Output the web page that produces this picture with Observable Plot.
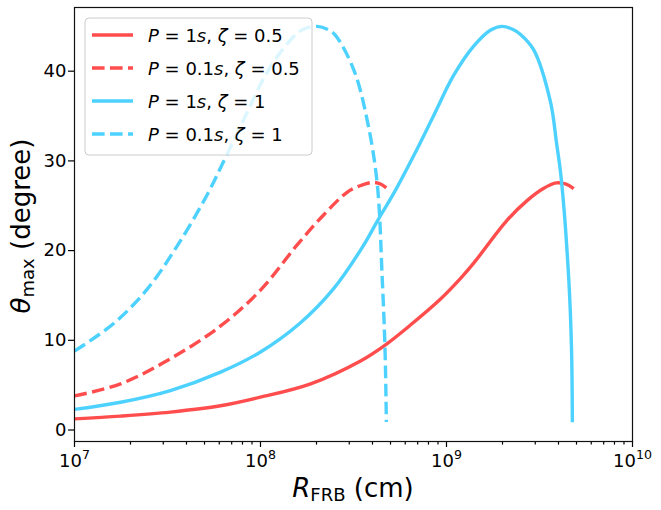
<!DOCTYPE html>
<html><head><meta charset="utf-8">
<script src="https://cdn.jsdelivr.net/npm/d3@7"></script>
<script src="https://cdn.jsdelivr.net/npm/@observablehq/plot@0.6"></script>
<style>body{margin:0;background:#fff} svg{display:block}</style>
</head><body><div id="chart"></div>
<script>
// ---- data ----
const seriesKeys = ["P1_z05", "P01_z05", "P1_z1", "P01_z1"];

// P = 1 s, zeta = 0.5 (solid red)
const R_P1_z05 = [1.0e7, 1.77e7, 3.28e7, 6.10e7, 1.0e8, 1.86e8, 3.45e8, 4.70e8, 6.40e8, 9.29e8, 1.19e9, 1.40e9, 2.12e9, 2.72e9, 3.30e9, 3.90e9, 4.40e9, 4.83e9];
const T_P1_z05 = [1.24, 1.55, 2.0, 2.7, 3.66, 5.15, 7.7, 9.5, 11.7, 14.6, 16.9, 18.6, 23.4, 25.6, 26.9, 27.55, 27.4, 26.9];

// P = 0.1 s, zeta = 0.5 (dashed red)
const R_P01_z05 = [1.0e7, 1.77e7, 3.28e7, 6.10e7, 1.0e8, 1.57e8, 2.19e8, 2.92e8, 3.40e8, 3.99e8, 4.45e8, 4.80e8];
const T_P01_z05 = [3.8, 5.15, 7.95, 11.6, 15.6, 20.6, 24.0, 26.5, 27.2, 27.6, 27.4, 26.9];

// P = 1 s, zeta = 1 (solid blue)
const R_P1_z1 = [1.0e7, 1.77e7, 3.28e7, 6.10e7, 1.0e8, 1.63e8, 2.46e8, 3.56e8, 4.33e8, 5.21e8, 6.67e8, 8.55e8, 1.09e9, 1.40e9, 1.73e9, 2.0e9, 2.28e9, 2.50e9, 2.94e9, 3.62e9, 3.91e9, 4.14e9, 4.54e9, 4.70e9, 4.75e9];
const T_P1_z1 = [2.3, 3.1, 4.4, 6.45, 8.7, 11.9, 15.7, 20.5, 23.6, 26.4, 30.6, 35.1, 39.5, 42.8, 44.6, 45.0, 44.65, 44.1, 42.4, 36.6, 31.9, 28.0, 16.9, 9.1, 0.87];

// P = 0.1 s, zeta = 1 (dashed blue)
const R_P01_z1 = [1.0e7, 1.63e7, 2.46e7, 3.56e7, 5.16e7, 6.49e7, 8.30e7, 1.06e8, 1.36e8, 1.67e8, 2.02e8, 2.30e8, 2.53e8, 3.18e8, 3.75e8, 4.24e8, 4.51e8, 4.67e8, 4.75e8];
const T_P01_z1 = [8.8, 11.9, 15.7, 20.5, 26.2, 30.4, 35.0, 39.5, 42.8, 44.6, 45.0, 44.65, 44.0, 40.1, 34.5, 27.5, 17.0, 9.1, 0.9];

const xTicks = [1e7, 1e8, 1e9, 1e10];
const xMinorTicks = [2e7,3e7,4e7,5e7,6e7,7e7,8e7,9e7, 2e8,3e8,4e8,5e8,6e8,7e8,8e8,9e8, 2e9,3e9,4e9,5e9,6e9,7e9,8e9,9e9];
const yTicks = [0, 10, 20, 30, 40];

// legend pieces: P value and zeta value of each series
const legendP = ["1", "0.1", "1", "0.1"];
const legendZeta = ["0.5", "0.5", "1", "1"];

// ---- build table ----
const seriesData = {
  P1_z05: [R_P1_z05, T_P1_z05],
  P01_z05: [R_P01_z05, T_P01_z05],
  P1_z1: [R_P1_z1, T_P1_z1],
  P01_z1: [R_P01_z1, T_P01_z1]
};
const rows = [];
for (const k of seriesKeys) {
  const [rs, ts] = seriesData[k];
  rs.forEach((r, i) => rows.push({series: k, R: r, theta: ts[i]}));
}

const RED = "#ff4d4d", BLUE = "#4dd2ff";
const styles = {
  P1_z05: {stroke: RED, dash: null},
  P01_z05: {stroke: RED, dash: "12.6,5.4"},
  P1_z1: {stroke: BLUE, dash: null},
  P01_z1: {stroke: BLUE, dash: "12.6,5.4"}
};
const LW = 3.4;

const lineMarks = seriesKeys.map(k => Plot.line(rows.filter(d => d.series === k), {
  x: "R", y: "theta", stroke: styles[k].stroke, strokeWidth: LW,
  strokeDasharray: styles[k].dash || undefined, curve: "catmull-rom",
  strokeLinecap: "butt", strokeLinejoin: "round"
}));

const chart = Plot.plot({
  width: 661, height: 510,
  marginLeft: 74, marginRight: 29, marginTop: 7, marginBottom: 69,
  style: {fontFamily: "DejaVu Sans", background: "white", color: "black", overflow: "visible"},
  x: {type: "log", domain: [1e7, 1e10]},
  y: {domain: [-1.28, 47.1]},
  marks: [
    ...lineMarks,
    Plot.axisX({ticks: xMinorTicks, tickSize: 3.6, tickFormat: () => "", strokeWidth: 1.2, label: null}),
    Plot.axisX({ticks: xTicks, tickSize: 6, tickPadding: 6.5, fontSize: 18, tickFormat: d => String(Math.round(Math.log10(d))), strokeWidth: 1.2, label: null}),
    Plot.axisY({ticks: yTicks, tickSize: 6, tickPadding: 2, fontSize: 18, strokeWidth: 1.2, label: null}),
    Plot.frame({stroke: "#111", strokeWidth: 1.2})
  ]
});

const svg = d3.select(chart);
// superscript exponents on the x tick labels
svg.selectAll('g[aria-label="x-axis tick label"] text').each(function() {
  const t = this.textContent;
  if (!t) return;
  const sel = d3.select(this);
  sel.text(null);
  sel.append("tspan").text("10");
  sel.append("tspan").attr("font-size", 12.6).attr("dy", -8).text(t);
});

const ann = svg.append("g").attr("font-family", "DejaVu Sans").attr("fill", "black");

// x axis label
const xl = ann.append("text").attr("x", 353).attr("y", 497).attr("text-anchor", "middle").attr("font-size", 26);
xl.append("tspan").attr("font-style", "italic").text("R");
xl.append("tspan").attr("font-size", 18).attr("dy", 4).text("FRB");
xl.append("tspan").attr("dy", -4).text("\u00a0(cm)");

// y axis label
const yl = ann.append("text").attr("transform", "translate(29.5,226) rotate(-90)").attr("text-anchor", "middle").attr("font-size", 26);
yl.append("tspan").attr("font-style", "italic").text("θ");
yl.append("tspan").attr("font-size", 18).attr("dy", 4).text("max");
yl.append("tspan").attr("dy", -4).text("\u00a0(degree)");

// legend
const lg = ann.append("g").attr("text-anchor", "start");
lg.append("rect").attr("x", 85).attr("y", 18).attr("width", 227).attr("height", 137).attr("rx", 4)
  .attr("fill", "white").attr("fill-opacity", 0.8).attr("stroke", "#cccccc").attr("stroke-width", 1);
seriesKeys.forEach((k, i) => {
  const y = 35 + i * 33;
  lg.append("line").attr("x1", 92).attr("x2", 133).attr("y1", y).attr("y2", y)
    .attr("stroke", styles[k].stroke).attr("stroke-width", LW)
    .attr("stroke-dasharray", styles[k].dash);
  const t = lg.append("text").attr("x", 148).attr("y", y + 6.6).attr("font-size", 18).attr("text-anchor", "start");
  t.append("tspan").attr("font-style", "italic").text("P");
  t.append("tspan").text("\u00a0=\u00a0" + legendP[i]);
  t.append("tspan").attr("font-style", "italic").text("s");
  t.append("tspan").text(",\u00a0");
  t.append("tspan").attr("font-style", "italic").text("ζ");
  t.append("tspan").text("\u00a0=\u00a0" + legendZeta[i]);
});

document.getElementById("chart").appendChild(chart);
</script>
</body></html>
